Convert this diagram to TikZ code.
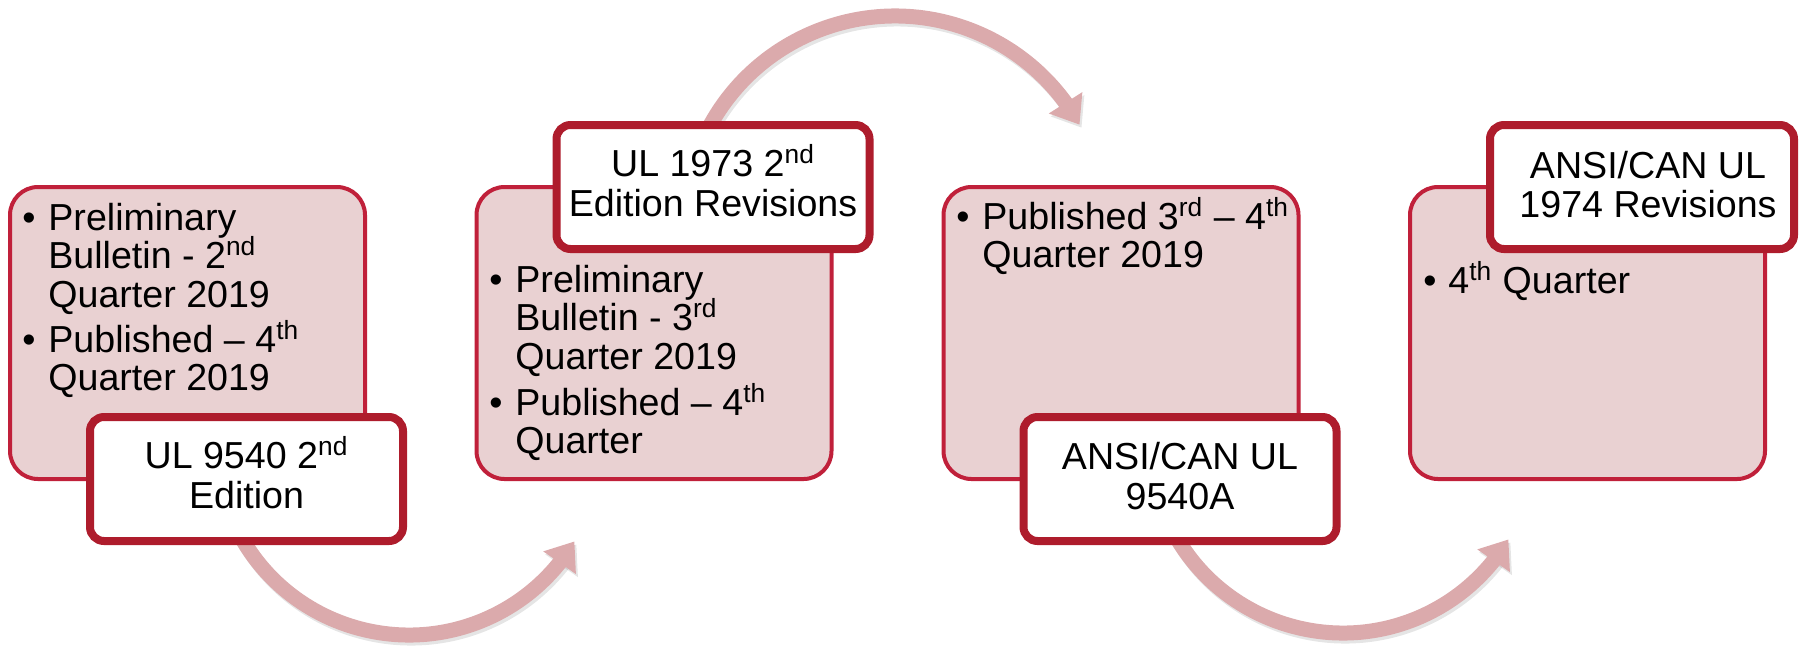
\documentclass[tikz,border=0pt]{standalone}
\usepackage{fontspec}
\setmainfont{Liberation Sans}
\usetikzlibrary{arrows.meta,bending,shadows}
\definecolor{pinkfill}{HTML}{E9D1D2}
\definecolor{pinkline}{HTML}{C0203A}
\definecolor{titleline}{HTML}{AE1C2C}
\definecolor{arrowcol}{HTML}{DBAAAC}
\newcommand{\bodyfont}{\fontsize{18.8pt}{19.25pt}\selectfont}
\begin{document}
\begin{tikzpicture}[x=0.5pt,y=-0.5pt,
  pinkbox/.style={draw=pinkline, fill=pinkfill, line width=2pt, rounded corners=14pt,
    minimum width=177.5pt, minimum height=146pt, inner sep=0pt},
  titlebox/.style={draw=titleline, fill=white, line width=4pt, rounded corners=7pt,
    minimum width=156.5pt, minimum height=62pt, inner sep=0pt,
    drop shadow={shadow xshift=1.2pt, shadow yshift=-1.6pt, opacity=0.28, fill=black}},
  txt/.style={anchor=base west, inner sep=0pt, font=\bodyfont},
  ctxt/.style={anchor=base, inner sep=0pt, font=\bodyfont},
  bul/.style={anchor=base, inner sep=0pt, font=\bodyfont},
  flow/.style={draw=arrowcol, line width=7.5pt, -{Triangle[width=19pt,length=13pt]}},
  flowshadow/.style={draw=black, opacity=0.10, line width=7.5pt, -{Triangle[width=19pt,length=13pt]}}
]
\useasboundingbox (0,0) rectangle (1800,645);

% arrows (drawn first, start hidden under title boxes)
\coordinate (a1s) at ({409+193*cos(152)},{442+193*sin(152)});
\coordinate (a2s) at ({895+211*cos(205)},{227+211*sin(205)});
\coordinate (a3s) at ({1343+193*cos(152)},{440+193*sin(152)});
\draw[flowshadow] ([shift={(2,3)}]a1s) arc[start angle=152, end angle=31, radius=193];
\draw[flowshadow] ([shift={(2,3)}]a2s) arc[start angle=205, end angle=331, radius=211];
\draw[flowshadow] ([shift={(2,3)}]a3s) arc[start angle=152, end angle=31, radius=193];
\draw[flow] (a1s) arc[start angle=152, end angle=31, radius=193];
\draw[flow] (a2s) arc[start angle=205, end angle=331, radius=211];
\draw[flow] (a3s) arc[start angle=152, end angle=31, radius=193];

% pink boxes
\node[pinkbox] (p1) at (187.5,333) {};
\node[pinkbox] (p2) at (654,333) {};
\node[pinkbox] (p3) at (1121,333) {};
\node[pinkbox] (p4) at (1587.5,333) {};

% title boxes
\node[titlebox] (w1) at (246.5,479) {};
\node[titlebox] (w2) at (713,187) {};
\node[titlebox] (w3) at (1180,479) {};
\node[titlebox, minimum width=152pt] (w4) at (1642,187) {};

% box 1 text
\node[bul] (b1a) at (29,230) {\textbullet};
\node[txt] (t1a) at (48,230) {Preliminary};
\node[txt] (t1b) at (48,268.5) {Bulletin - 2\textsuperscript{nd}};
\node[txt] (t1c) at (48,307) {Quarter 2019};
\node[bul] (b1b) at (29,352) {\textbullet};
\node[txt] (t1d) at (48,352) {Published – 4\textsuperscript{th}};
\node[txt] (t1e) at (48,390.5) {Quarter 2019};

% box 2 text
\node[bul] (b2a) at (496,292) {\textbullet};
\node[txt] (t2a) at (515,292) {Preliminary};
\node[txt] (t2b) at (515,330.5) {Bulletin - 3\textsuperscript{rd}};
\node[txt] (t2c) at (515,369) {Quarter 2019};
\node[bul] (b2b) at (496,415) {\textbullet};
\node[txt] (t2d) at (515,415) {Published – 4\textsuperscript{th}};
\node[txt] (t2e) at (515,453.5) {Quarter};

% box 3 text
\node[bul] (b3a) at (963,229) {\textbullet};
\node[txt] (t3a) at (982,229) {Published 3\textsuperscript{rd} – 4\textsuperscript{th}};
\node[txt] (t3b) at (982,267.5) {Quarter 2019};

% box 4 text
\node[bul] (b4a) at (1430,293) {\textbullet};
\node[txt] (t4a) at (1448,293) {4\textsuperscript{th} Quarter};

% title texts
\node[ctxt] (h1a) at (246.5,468) {UL 9540 2\textsuperscript{nd}};
\node[ctxt] (h1b) at (246.5,508) {Edition};
\node[ctxt] (h2a) at (713,176) {UL 1973 2\textsuperscript{nd}};
\node[ctxt] (h2b) at (713,216) {Edition Revisions};
\node[ctxt] (h3a) at (1180,469) {ANSI/CAN UL};
\node[ctxt] (h3b) at (1180,509) {9540A};
\node[ctxt] (h4a) at (1648,178) {ANSI/CAN UL};
\node[ctxt] (h4b) at (1648,217) {1974 Revisions};
\end{tikzpicture}
\end{document}
